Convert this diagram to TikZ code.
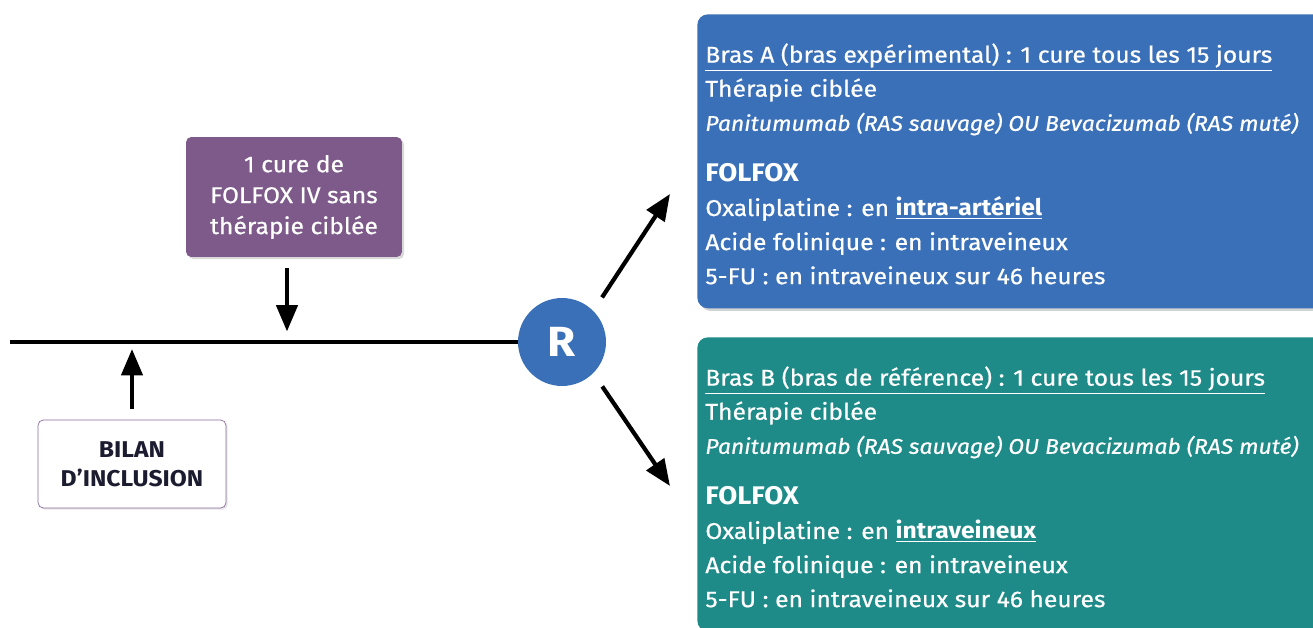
\documentclass[tikz,border=0pt]{standalone}
\usepackage{fontspec}
\setmainfont{Fira Sans}[FakeStretch=1.08, UprightFeatures={FakeBold=0.6}, ItalicFeatures={FakeBold=0.6}]
\usetikzlibrary{arrows.meta,shadows,positioning}
\definecolor{armblue}{HTML}{3A70B8}
\definecolor{armteal}{HTML}{1E8B88}
\definecolor{curepurple}{HTML}{7D5A89}
\definecolor{bilanedge}{HTML}{8C6C9C}
\definecolor{bilantext}{HTML}{1C1C30}
\newcommand{\drugline}{{\itshape\fontsize{12.1}{19.4}\selectfont Panitumumab (RAS sauvage) OU Bevacizumab (RAS muté)}}
\begin{document}
\begin{tikzpicture}[
  x=0.02cm, y=-0.02cm,
  font=\fontsize{13}{19.4}\selectfont,
  armbox/.style={rounded corners=6pt, minimum width=13cm, minimum height=5.88cm, anchor=north west,
    drop shadow={opacity=0.35, shadow xshift=1.5pt, shadow yshift=-1.5pt}},
  armtext/.style={text=white, align=left, anchor=north west, inner sep=0pt},
  curebox/.style={fill=curepurple, rounded corners=3pt, text=white, align=center,
    minimum width=4.32cm, minimum height=2.4cm, font=\fontsize{13}{17.6}\selectfont,
    drop shadow={opacity=0.3, shadow xshift=1.2pt, shadow yshift=-1.2pt}},
  bilanbox/.style={draw=bilanedge, fill=white, rounded corners=3pt, text=bilantext, align=center,
    minimum width=3.76cm, minimum height=1.76cm, font=\bfseries\fontsize{13}{16.5}\selectfont,
    drop shadow={opacity=0.2, shadow xshift=1pt, shadow yshift=-1pt}},
  rand/.style={circle, fill=armblue, text=white, minimum size=1.76cm, inner sep=0pt,
    font=\bfseries\fontsize{24}{24}\selectfont},
  arrow/.style={-{Triangle[length=15pt, width=12pt]}, line width=2.4pt},
  axis/.style={line width=2.4pt}
]
\useasboundingbox (0,0) rectangle (1313,628);

% randomisation and time line
\node[rand] (R) at (562,342) {R};
\coordinate (start) at (10,342);
\draw[axis] (start) -- (R);

% before randomisation
\node[curebox] (cure) at (294,197) {1 cure de\\FOLFOX IV sans\\thérapie ciblée};
\node[bilanbox] (bilan) at (132,464) {BILAN\\D’INCLUSION};
\coordinate (curept) at (287,342);
\draw[arrow, shorten <=6pt, shorten >=6pt] (cure.south -| curept) -- (curept);
\draw[arrow, shorten <=6pt, shorten >=4pt] (bilan.north) -- (bilan.north |- start);

% arms
\node[armbox, fill=armblue] (armA) at (697,14) {};
\node[armbox, fill=armteal] (armB) at (697,337) {};
\node[armtext, below right=0.58cm and 0.16cm of armA.north west] (textA) {%
  \underline{Bras A (bras expérimental) : 1 cure tous les 15 jours}\\
  Thérapie ciblée\\
  \drugline\\[0.34cm]
  {\bfseries\fontsize{14.5}{19.4}\selectfont FOLFOX}\\
  Oxaliplatine : en \underline{\textbf{intra-artériel}}\\
  Acide folinique : en intraveineux\\
  5-FU : en intraveineux sur 46 heures};
\node[armtext, below right=0.58cm and 0.16cm of armB.north west] (textB) {%
  \underline{Bras B (bras de référence) : 1 cure tous les 15 jours}\\
  Thérapie ciblée\\
  \drugline\\[0.34cm]
  {\bfseries\fontsize{14.5}{19.4}\selectfont FOLFOX}\\
  Oxaliplatine : en \underline{\textbf{intraveineux}}\\
  Acide folinique : en intraveineux\\
  5-FU : en intraveineux sur 46 heures};
\coordinate (tipA) at (670,194);
\coordinate (tipB) at (670,486);
\draw[arrow, shorten <=9pt] (R.45) -- (tipA);
\draw[arrow, shorten <=9pt] (R.-45) -- (tipB);
\end{tikzpicture}
\end{document}
